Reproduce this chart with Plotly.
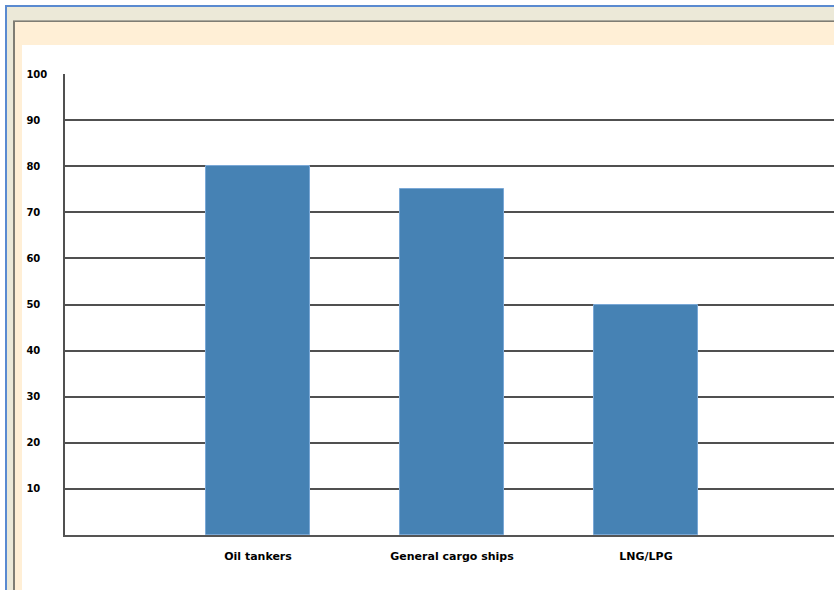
import plotly.graph_objects as go

categories = ["Oil tankers", "General cargo ships", "LNG/LPG"]
values = [80, 75, 50]
ytick_vals = [10, 20, 30, 40, 50, 60, 70, 80, 90, 100]
ytick_text = [f"{v}\u2007" if v < 100 else f"{v}" for v in ytick_vals]

W, H = 834, 590
ML, MT, MB = 65, 74, 55
PW = W - ML
PH = H - MT - MB


def xp(px):
    return (px - ML) / PW


def yp(py):
    return (H - MB - py) / PH


fig = go.Figure()
fig.add_trace(go.Bar(
    x=list(range(len(categories))),
    y=values,
    width=0.54,
    marker=dict(color="#4682B4", line=dict(color="#7aa8d6", width=1)),
    hoverinfo="skip",
))

frames = [
    (5, 5, "#5a8ad0"),
    (7, 7, "#ECE9D8"),
    (13, 20, "#7f7d74"),
    (15, 22, "#FFEFD6"),
    (22, 45, "#FFFFFF"),
]
shapes = []
for x0, y0, col in frames:
    shapes.append(dict(type="rect", xref="paper", yref="paper",
                       x0=xp(x0), x1=1.5, y0=-0.5, y1=yp(y0),
                       fillcolor=col, line=dict(width=0), layer="below"))
# lighter top edge of the dark line
shapes.append(dict(type="rect", xref="paper", yref="paper",
                   x0=xp(13), x1=1.5, y0=yp(21), y1=yp(20),
                   fillcolor="#a9a79c", line=dict(width=0), layer="below"))

fig.update_layout(
    width=W, height=H,
    margin=dict(l=ML, r=0, t=MT, b=MB, pad=0),
    paper_bgcolor="white",
    plot_bgcolor="rgba(0,0,0,0)",
    showlegend=False,
    shapes=shapes,
    font=dict(family="DejaVu Sans", size=10, color="#000"),
    bargap=0,
)
fig.update_xaxes(
    range=[-1 + 1 / 194.0, -1 + (PW + 1) / 194.0],
    tickvals=list(range(len(categories))),
    ticktext=[f"<b>{c}</b>" for c in categories],
    tickfont=dict(size=11),
    showgrid=False, zeroline=False,
    showline=True, linecolor="#555555", linewidth=1.5,
    ticks="", ticklabelstandoff=10,
    fixedrange=True,
)
fig.update_yaxes(
    range=[0, 100],
    tickvals=ytick_vals,
    ticktext=[f"<b>{t}</b>" for t in ytick_text],
    showgrid=True, gridcolor="#505050", gridwidth=1.5,
    zeroline=False,
    showline=True, linecolor="#505050", linewidth=1.5,
    ticks="", ticklabelstandoff=14,
    fixedrange=True,
)

fig.write_html("out.html")
